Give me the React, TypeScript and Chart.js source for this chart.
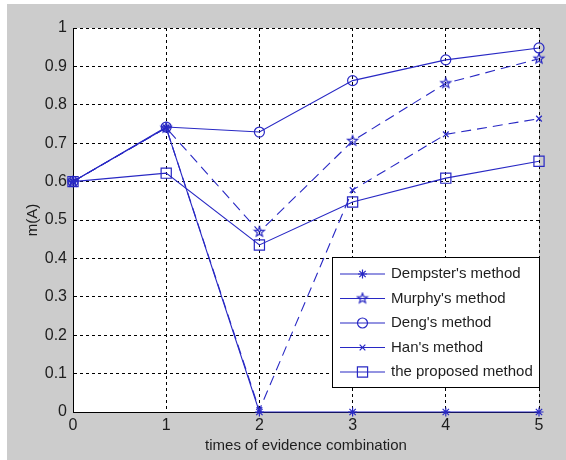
import React, { useEffect, useRef } from 'react';
import { Chart, registerables } from 'chart.js';
import { drawPoint } from 'chart.js/helpers';

Chart.register(...registerables);

const xValues = [0, 1, 2, 3, 4, 5];
const xTickLabels = ['0', '1', '2', '3', '4', '5'];
const yTickLabels = ['0', '0.1', '0.2', '0.3', '0.4', '0.5', '0.6', '0.7', '0.8', '0.9', '1'];
const seriesNames = ["Dempster's method", "Murphy's method", "Deng's method", "Han's method", 'the proposed method'];
const dempster = [0.6, 0.74, 0, 0, 0, 0];
const murphy = [0.6, 0.74, 0.469, 0.706, 0.856, 0.92];
const deng = [0.6, 0.742, 0.729, 0.863, 0.917, 0.948];
const han = [0.6, 0.74, 0.005, 0.578, 0.723, 0.764];
const proposed = [0.6, 0.622, 0.435, 0.547, 0.609, 0.653];

const FONT = '"Liberation Sans", Arial, sans-serif';
const LINE = '#2828c4';
const TEXT = '#1e1e1e';

function makePentagram(r: number, color: string) {
  const s = Math.ceil(r * 2 + 3);
  const c = document.createElement('canvas');
  c.width = s;
  c.height = s;
  const ctx = c.getContext('2d')!;
  ctx.strokeStyle = color;
  ctx.lineWidth = 1.2;
  ctx.beginPath();
  for (let i = 0; i < 10; i++) {
    const rad = i % 2 === 0 ? r : r * 0.42;
    const a = -Math.PI / 2 + (i * Math.PI) / 5;
    const px = s / 2 + rad * Math.cos(a);
    const py = s / 2 + rad * Math.sin(a);
    if (i === 0) ctx.moveTo(px, py);
    else ctx.lineTo(px, py);
  }
  ctx.closePath();
  ctx.stroke();
  return c;
}

export default function App() {
  const ref = useRef<HTMLCanvasElement | null>(null);

  useEffect(() => {
    const canvas = ref.current;
    if (!canvas) return;
    const star5 = makePentagram(5.2, LINE);

    const seriesValues = [dempster, murphy, deng, han, proposed];
    const styles: any[] = [
      { pointStyle: 'star', radius: 4.5, dash: [] },
      { pointStyle: star5, radius: 5.2, dash: [10, 6] },
      { pointStyle: 'circle', radius: 5, dash: [] },
      { pointStyle: 'crossRot', radius: 4, dash: [10, 6] },
      { pointStyle: 'rect', radius: 7.2, dash: [] },
    ];

    const datasets = seriesValues.map((vals, i) => ({
      label: seriesNames[i],
      data: xValues.map((x, j) => ({ x, y: vals[j] })),
      borderColor: LINE,
      backgroundColor: 'rgba(0,0,0,0)',
      borderWidth: 1.1,
      borderDash: styles[i].dash,
      pointStyle: styles[i].pointStyle,
      pointRadius: styles[i].radius,
      pointBorderColor: LINE,
      pointBackgroundColor: 'rgba(0,0,0,0)',
      pointBorderWidth: 1.2,
      tension: 0,
      clip: false as any,
    }));

    const bgPlugin = {
      id: 'bg',
      beforeDraw(chart: any) {
        const { ctx, chartArea } = chart;
        ctx.save();
        ctx.fillStyle = '#ffffff';
        ctx.fillRect(0, 0, chart.width, chart.height);
        ctx.fillStyle = '#cccccc';
        ctx.fillRect(7, 4, chart.width - 7, chart.height - 4);
        ctx.fillStyle = '#ffffff';
        ctx.fillRect(chartArea.left, chartArea.top, chartArea.right - chartArea.left, chartArea.bottom - chartArea.top);
        ctx.restore();
      },
    };

    const legendPlugin = {
      id: 'customLegend',
      afterDraw(chart: any) {
        const { ctx } = chart;
        const bx = 332, by = 257, bw = 207, bh = 130;
        ctx.save();
        ctx.fillStyle = '#ffffff';
        ctx.fillRect(bx, by, bw, bh);
        ctx.strokeStyle = '#000000';
        ctx.lineWidth = 1;
        ctx.setLineDash([]);
        ctx.strokeRect(bx + 0.5, by + 0.5, bw, bh);
        seriesNames.forEach((name, i) => {
          const y = by + 17 + i * 24.5;
          ctx.strokeStyle = LINE;
          ctx.lineWidth = 1.1;
          ctx.beginPath();
          ctx.moveTo(340, y);
          ctx.lineTo(385, y);
          ctx.stroke();
          ctx.fillStyle = 'rgba(0,0,0,0)';
          ctx.lineWidth = 1.2;
          drawPoint(ctx, { pointStyle: styles[i].pointStyle, radius: styles[i].radius, rotation: 0, borderWidth: 1.2 } as any, 362.5, y);
          ctx.fillStyle = TEXT;
          ctx.font = '15px ' + FONT;
          ctx.textBaseline = 'middle';
          ctx.textAlign = 'left';
          ctx.fillText(name, 391, y);
        });
        ctx.restore();
      },
    };

    const chart = new Chart(canvas, {
      type: 'line',
      data: { datasets },
      options: {
        responsive: false,
        animation: false,
        devicePixelRatio: 1,
        layout: { padding: { left: 0, top: 28, right: 27, bottom: 0 } },
        plugins: { legend: { display: false }, tooltip: { enabled: false } },
        scales: {
          x: {
            type: 'linear',
            min: 0,
            max: 5,
            afterFit: (s: any) => { s.height = 48; },
            ticks: {
              stepSize: 1,
              padding: 4,
              color: TEXT,
              font: { family: FONT, size: 16 },
              callback: (v: any) => xTickLabels[Math.round(Number(v))] ?? '',
              maxRotation: 0,
            },
            grid: { color: '#000000', lineWidth: 1, drawTicks: false },
            border: { display: true, color: '#000000', width: 1, dash: [3, 3] },
            title: {
              display: true,
              text: 'times of evidence combination',
              color: TEXT,
              font: { family: FONT, size: 15 },
              padding: { top: 0, bottom: 5 },
            },
          },
          y: {
            type: 'linear',
            min: 0,
            max: 1,
            afterFit: (s: any) => { s.width = 73; },
            ticks: {
              stepSize: 0.1,
              padding: 6,
              color: TEXT,
              font: { family: FONT, size: 16 },
              callback: (v: any) => yTickLabels[Math.round(Number(v) * 10)] ?? '',
            },
            grid: { color: '#000000', lineWidth: 1, drawTicks: false },
            border: { display: true, color: '#000000', width: 1, dash: [3, 3] },
            title: {
              display: true,
              text: 'm(A)',
              color: TEXT,
              font: { family: FONT, size: 15 },
              padding: { top: 24, bottom: 0 },
            },
          },
        },
      },
      plugins: [bgPlugin, legendPlugin],
    } as any);

    return () => chart.destroy();
  }, []);

  return (
    <div style={{ position: 'fixed', left: 0, top: 0, width: 566, height: 460 }}>
      <canvas ref={ref} width={566} height={460} style={{ display: 'block', width: 566, height: 460 }} />
    </div>
  );
}
